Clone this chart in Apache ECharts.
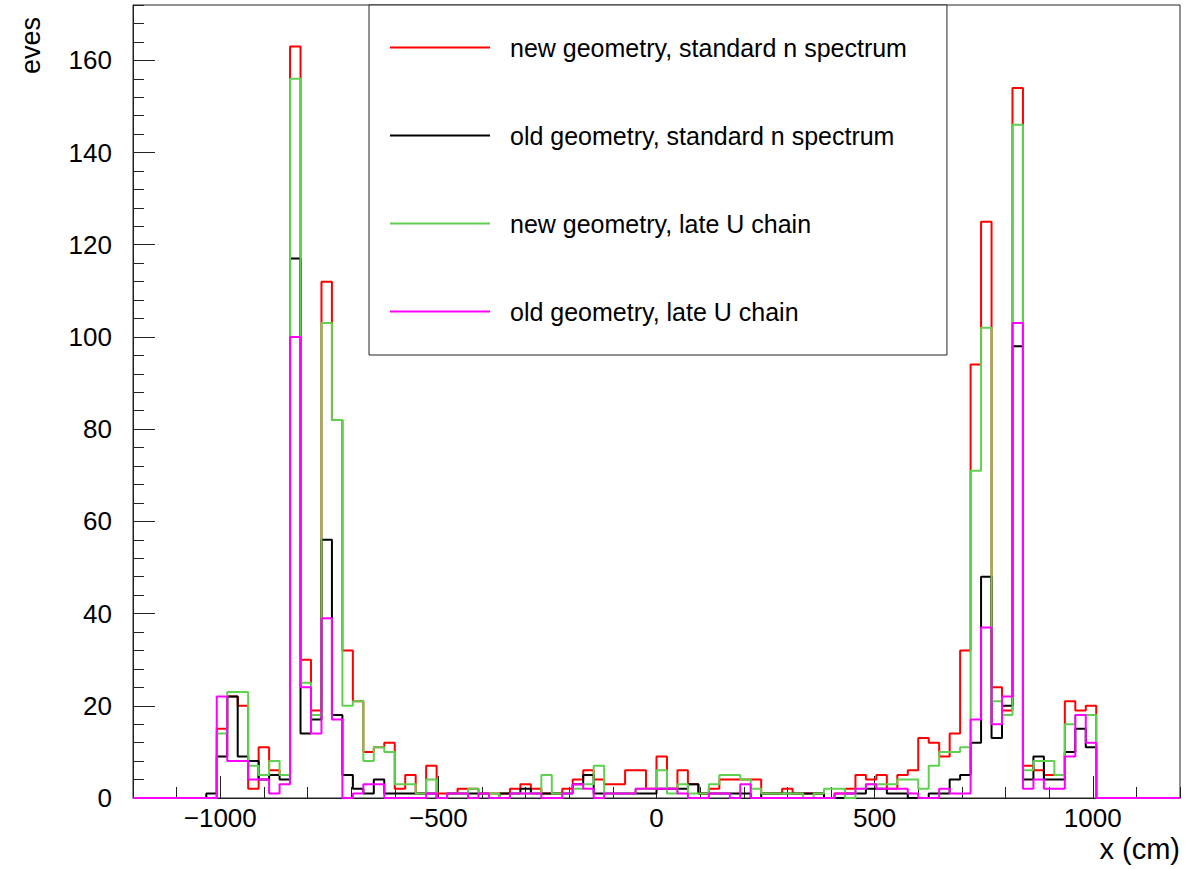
<!DOCTYPE html>
<html>
<head>
<meta charset="utf-8">
<script src="https://cdn.jsdelivr.net/npm/echarts@6/dist/echarts.min.js"></script>
<style>
html, body { margin: 0; padding: 0; background: #fff; }
#chart { width: 1198px; height: 869px; }
</style>
</head>
<body>
<div id="chart"></div>
<script>
// histogram binning: 100 bins from -1200 to 1200 cm
const xMin = -1200
const xMax = 1200
const binWidth = 24

// bin contents, one value per bin (left to right)
const newStd = [
  0, 0, 0, 0, 0, 0, 0, 0, 15, 22, 20, 2, 11, 6, 5, 163, 30, 19, 112, 82,
  32, 21, 10, 11, 12, 2, 5, 1, 7, 1, 1, 2, 2, 1, 1, 1, 2, 3, 2, 1,
  1, 2, 4, 6, 4, 3, 3, 6, 6, 2, 9, 2, 6, 3, 1, 2, 4, 4, 4, 4,
  1, 1, 2, 1, 1, 1, 0, 1, 2, 5, 4, 5, 2, 5, 6, 13, 12, 9, 14, 32,
  94, 125, 24, 19, 154, 7, 6, 5, 5, 21, 19, 20, 0, 0, 0, 0, 0, 0, 0, 0
]
const oldStd = [
  0, 0, 0, 0, 0, 0, 0, 1, 9, 22, 9, 8, 4, 5, 4, 117, 14, 17, 56, 18,
  5, 2, 1, 4, 1, 1, 1, 1, 1, 0, 1, 1, 1, 1, 0, 1, 1, 2, 1, 1,
  1, 1, 3, 5, 1, 1, 1, 1, 1, 1, 2, 2, 2, 3, 1, 1, 1, 1, 1, 0,
  1, 1, 1, 1, 1, 1, 0, 0, 1, 1, 2, 2, 1, 1, 0, 0, 1, 1, 4, 5,
  12, 48, 13, 20, 98, 4, 9, 4, 4, 10, 15, 11, 0, 0, 0, 0, 0, 0, 0, 0
]
const newLateU = [
  0, 0, 0, 0, 0, 0, 0, 0, 14, 23, 23, 7, 5, 8, 5, 156, 25, 18, 103, 82,
  20, 21, 8, 11, 10, 3, 3, 1, 4, 0, 1, 1, 2, 1, 1, 0, 1, 1, 1, 5,
  1, 1, 2, 3, 7, 1, 1, 1, 2, 2, 6, 1, 3, 1, 1, 3, 5, 5, 4, 2,
  1, 1, 1, 1, 0, 1, 2, 2, 0, 2, 3, 3, 3, 4, 4, 2, 7, 10, 10, 11,
  71, 102, 21, 18, 146, 6, 8, 8, 5, 16, 18, 18, 0, 0, 0, 0, 0, 0, 0, 0
]
const oldLateU = [
  0, 0, 0, 0, 0, 0, 0, 0, 22, 8, 8, 4, 4, 1, 3, 100, 24, 14, 39, 17,
  0, 1, 3, 3, 0, 0, 0, 0, 1, 0, 1, 1, 0, 1, 0, 0, 1, 1, 1, 0,
  0, 1, 3, 2, 0, 1, 1, 1, 2, 2, 2, 2, 1, 0, 0, 1, 1, 0, 3, 0,
  0, 0, 0, 0, 0, 0, 0, 1, 1, 2, 3, 2, 2, 2, 1, 0, 0, 2, 1, 1,
  17, 37, 16, 22, 103, 2, 4, 2, 2, 9, 18, 12, 0, 0, 0, 0, 0, 0, 0, 0
]

const seriesNames = [
  'new geometry, standard n spectrum',
  'old geometry, standard n spectrum',
  'new geometry, late U chain',
  'old geometry, late U chain'
]
const seriesColors = ['#ff0000', '#000000', '#5ed24f', '#ff00ff']

const xMajorTicks = [-1000, -500, 0, 500, 1000]
const yMajorTicks = [0, 20, 40, 60, 80, 100, 120, 140, 160]
const yTop = 172

// [left edge, content] pairs, plus closing point at the right edge
function toSteps (values) {
  const pts = values.map((v, i) => [xMin + i * binWidth, v])
  pts.push([xMax, values[values.length - 1]])
  return pts
}

const font = 'Liberation Sans, Arial, Helvetica, sans-serif'
const chart = echarts.init(document.getElementById('chart'), null, { renderer: 'svg' })

const option = {
  animation: false,
  backgroundColor: '#fff',
  grid: {
    left: 133,
    right: 18,
    top: 5,
    bottom: 71,
    show: true,
    borderColor: '#222',
    borderWidth: 1
  },
  legend: {
    orient: 'vertical',
    left: 369,
    top: 5,
    padding: [30, 40, 31, 21],
    itemGap: 63,
    itemWidth: 100,
    itemHeight: 2,
    icon: 'rect',
    borderColor: '#222',
    borderWidth: 1,
    backgroundColor: '#fff',
    textStyle: {
      fontFamily: font,
      fontSize: 25,
      color: '#000',
      padding: [0, 0, 0, 15]
    },
    data: seriesNames
  },
  graphic: [
    {
      type: 'text',
      left: 17,
      top: 17,
      rotation: Math.PI / 2,
      style: { text: 'eves', fontFamily: font, fontSize: 27, fill: '#000' }
    }
  ],
  xAxis: [
    {
      type: 'value',
      min: xMin,
      max: xMax,
      name: 'x (cm)',
      nameLocation: 'end',
      nameGap: 0,
      nameTextStyle: {
        fontFamily: font,
        fontSize: 29,
        color: '#000',
        align: 'right',
        verticalAlign: 'top',
        padding: [36, 0, 0, 0]
      },
      axisLine: { onZero: false, lineStyle: { color: '#222' } },
      axisTick: { show: true, inside: true, length: 22, customValues: xMajorTicks, lineStyle: { color: '#222' } },
      axisLabel: {
        customValues: xMajorTicks,
        margin: 7,
        fontFamily: font,
        fontSize: 26,
        color: '#000',
        formatter: v => (v < 0 ? '\u2212' + Math.abs(v) : String(v))
      },
      splitLine: { show: false }
    },
    {
      // minor ticks every 100 cm
      type: 'value',
      min: xMin,
      max: xMax,
      interval: 100,
      position: 'bottom',
      axisLine: { show: false, onZero: false },
      axisTick: { show: true, inside: true, length: 11, lineStyle: { color: '#222' } },
      axisLabel: { show: false },
      splitLine: { show: false }
    }
  ],
  yAxis: [
    {
      type: 'value',
      min: 0,
      max: yTop,
      axisLine: { show: true, onZero: false, lineStyle: { color: '#222' } },
      axisTick: { show: true, inside: true, length: 22, customValues: yMajorTicks, lineStyle: { color: '#222' } },
      axisLabel: { customValues: yMajorTicks, margin: 21, fontFamily: font, fontSize: 26, color: '#000' },
      splitLine: { show: false }
    },
    {
      // minor ticks every 4
      type: 'value',
      min: 0,
      max: yTop,
      interval: 4,
      position: 'left',
      axisLine: { show: false, onZero: false },
      axisTick: { show: true, inside: true, length: 11, lineStyle: { color: '#222' } },
      axisLabel: { show: false },
      splitLine: { show: false }
    }
  ],
  series: [newStd, oldStd, newLateU, oldLateU].map((vals, k) => ({
    name: seriesNames[k],
    type: 'line',
    step: 'end',
    symbol: 'none',
    data: toSteps(vals),
    color: seriesColors[k],
    lineStyle: { width: 2, color: seriesColors[k] }
  }))
}

chart.setOption(option)
</script>
</body>
</html>
